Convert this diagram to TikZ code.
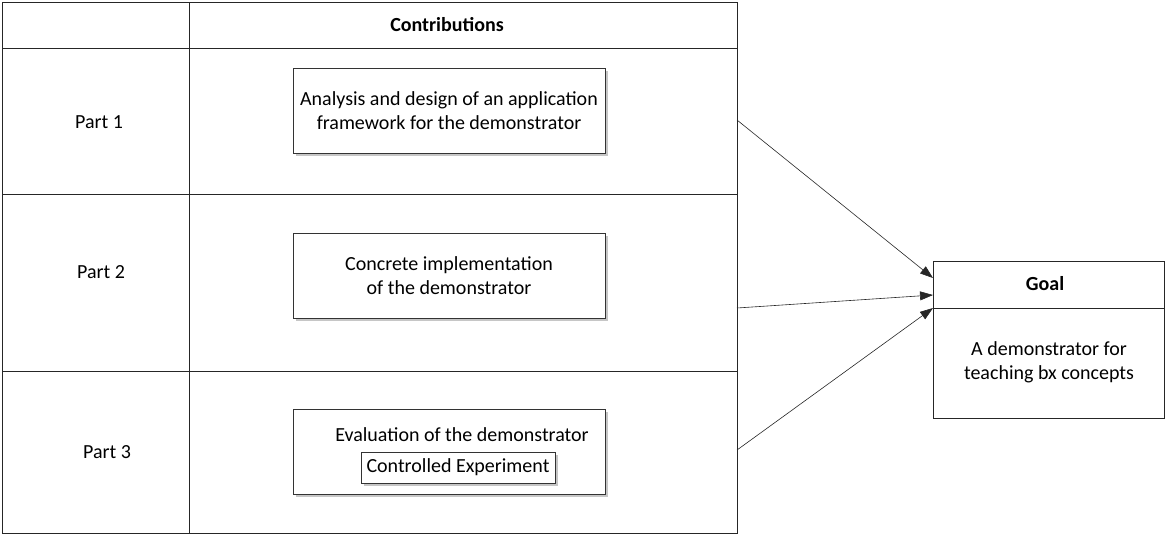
\documentclass[tikz,border=0pt]{standalone}
\usepackage{fontspec}
\setmainfont{Carlito}
\usetikzlibrary{arrows.meta, shadows}

\tikzset{
  cell/.style = {draw = black!85, line width = 0.9pt},
  contrib/.style = {draw = black!80, fill = white, line width = 0.8pt,
    minimum width = 312, minimum height = 85, align = center,
    drop shadow = {shadow xshift = 2.5pt, shadow yshift = -2.5pt, opacity = 0.45}},
  tag/.style = {font = \fontsize{20}{24}\selectfont},
  flow/.style = {draw = black!85, line width = 0.6pt,
    -{Triangle[length = 13pt, width = 9pt]}}
}

\begin{document}
\begin{tikzpicture}[x = 1pt, y = -1pt, font = \fontsize{20}{24}\selectfont]
\useasboundingbox (0, 0) rectangle (1169, 550);
% table
\draw[cell] (2, 2) rectangle (737, 533);
\draw[cell] (189, 2) -- (189, 533);
\draw[cell] (2, 48) -- (737, 48);
\draw[cell] (2, 194) -- (737, 194);
\draw[cell] (2, 371) -- (737, 371);
\node[font = \fontsize{20}{24}\selectfont\bfseries] (head) at (447, 25) {Contributions};
\node[tag] (part1) at (99, 122) {Part 1};
\node[tag] (part2) at (101, 272) {Part 2};
\node[tag] (part3) at (107, 452) {Part 3};
% contributions
\node[contrib] (analysis) at (449, 110.5) {Analysis and design of an application\\framework for the demonstrator};
\node[contrib] (impl) at (449, 275.5) {Concrete implementation\\of the demonstrator};
\node[contrib] (eval) at (449, 451.5) {};
\node (evaltext) at (462, 435) {Evaluation of the demonstrator};
\node[draw = black!80, fill = white, line width = 0.8pt, minimum width = 194, minimum height = 31,
  drop shadow = {shadow xshift = 2.5pt, shadow yshift = -2.5pt, opacity = 0.45}] (exp) at (458, 467.5) {Controlled Experiment};
% goal
\node[draw = black!85, line width = 0.9pt, minimum width = 231, minimum height = 157] (goal) at (1048.5, 339.5) {};
\draw[cell] (933, 308) -- (1164, 308);
\node[font = \fontsize{20}{24}\selectfont\bfseries] (goalhead) at (1045, 284) {Goal};
\node[align = center] (goaltext) at (1049, 362) {A demonstrator for\\teaching bx concepts};
% connectors
\coordinate (s1) at (737, 120);
\coordinate (s2) at (737, 308);
\coordinate (s3) at (737, 450);
\coordinate (g1) at (933, 278);
\coordinate (g2) at (933, 295);
\coordinate (g3) at (933, 308);
\draw[flow] (s1) -- (g1);
\draw[flow] (s2) -- (g2);
\draw[flow] (s3) -- (g3);
\end{tikzpicture}
\end{document}
